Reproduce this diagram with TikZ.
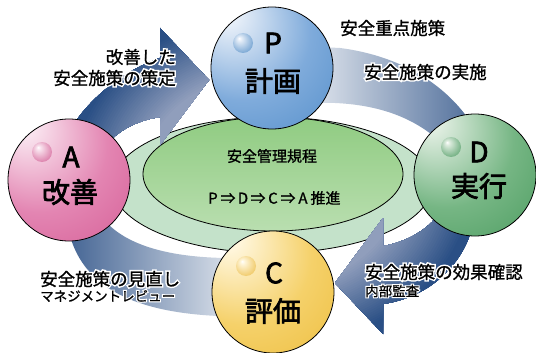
\documentclass[tikz,border=0pt]{standalone}
\usepackage{fontspec}
\setmainfont{Noto Sans CJK JP}
\newfontfamily\labfont{Noto Sans CJK JP}[FakeBold=1]
\newfontfamily\circfont{Noto Sans CJK JP}[FakeBold=2.5]
\newfontfamily\halofont{Noto Sans CJK JP}[FakeBold=18]
\newcommand{\halotext}[1]{\makebox[0pt][l]{\halofont\color{white}#1}#1}
\usetikzlibrary{shapes.geometric}
\definecolor{arrdark}{HTML}{2A4F85}
\definecolor{arrlight}{HTML}{909EBC}
\definecolor{Plight}{HTML}{E6EEF8}
\definecolor{Pmid}{HTML}{7FABDB}
\definecolor{Pdark}{HTML}{2670B8}
\definecolor{Alight}{HTML}{F9E3EE}
\definecolor{Amid}{HTML}{E385B2}
\definecolor{Adark}{HTML}{C63478}
\definecolor{Dlight}{HTML}{DFEDE0}
\definecolor{Dmid}{HTML}{76B684}
\definecolor{Ddark}{HTML}{1E8039}
\definecolor{Clight}{HTML}{FFF6DC}
\definecolor{Cmid}{HTML}{F5D16A}
\definecolor{Cdark}{HTML}{E5A912}
\definecolor{ringc}{HTML}{C4E2CA}
\definecolor{ingreen}{HTML}{7BC26A}
\definecolor{inpale}{HTML}{CEE8C7}
\pgfdeclareradialshading{sphP}{\pgfpoint{-20bp}{24bp}}{color(0bp)=(Plight); color(5bp)=(Plight); color(28bp)=(Pmid); color(72bp)=(Pdark)}
\pgfdeclareradialshading{sphA}{\pgfpoint{-20bp}{24bp}}{color(0bp)=(Alight); color(5bp)=(Alight); color(28bp)=(Amid); color(72bp)=(Adark)}
\pgfdeclareradialshading{sphD}{\pgfpoint{-20bp}{24bp}}{color(0bp)=(Dlight); color(5bp)=(Dlight); color(28bp)=(Dmid); color(72bp)=(Ddark)}
\pgfdeclareradialshading{sphC}{\pgfpoint{-20bp}{24bp}}{color(0bp)=(Clight); color(5bp)=(Clight); color(28bp)=(Cmid); color(72bp)=(Cdark)}
\pgfdeclareradialshading{ballP}{\pgfpoint{-10bp}{12bp}}{color(0bp)=(white); color(5bp)=(Plight); color(50bp)=(Pdark)}
\pgfdeclareradialshading{ballA}{\pgfpoint{-10bp}{12bp}}{color(0bp)=(white); color(5bp)=(Alight); color(50bp)=(Adark)}
\pgfdeclareradialshading{ballD}{\pgfpoint{-10bp}{12bp}}{color(0bp)=(white); color(5bp)=(Dlight); color(50bp)=(Ddark)}
\pgfdeclareradialshading{ballC}{\pgfpoint{-10bp}{12bp}}{color(0bp)=(white); color(5bp)=(Clight); color(50bp)=(Cdark)}
\pgfdeclarehorizontalshading{bandPD}{100bp}{color(0bp)=(white); color(10bp)=(white); color(92bp)=(arrdark); color(100bp)=(arrdark)}
\pgfdeclarehorizontalshading{bandCA}{100bp}{color(0bp)=(arrdark); color(15bp)=(arrdark); color(90bp)=(white); color(100bp)=(white)}
\pgfdeclareverticalshading{ingr}{100bp}{color(0bp)=(inpale); color(100bp)=(ingreen)}
\newcommand{\ringfill}{%
  \foreach \k in {100,99,...,40}{%
    \pgfmathsetmacro\pp{max(0,min(100,(\k-54)/(84-54)*100))}%
    \fill[arrdark!\pp!arrlight] (272,180) ellipse [x radius=2.4*\k, y radius=2.0*\k];
  }}
\begin{document}
\begin{tikzpicture}[x=1pt,y=-1pt,
  sph/.style={circle, draw=black, line width=0.8pt, minimum size=122pt, inner sep=0pt, shade},
  smallball/.style={circle, minimum size=20pt, inner sep=0pt, shade},
  letter/.style={font=\circfont\fontsize{28}{28}\selectfont, inner sep=0pt},
  kanji/.style={font=\circfont\fontsize{28}{28}\selectfont, inner sep=0pt},
  lbl/.style={font=\labfont\fontsize{17.5}{20}\selectfont, inner sep=0pt},
  smalllbl/.style={font=\labfont\fontsize{13.5}{15}\selectfont, inner sep=0pt},
  etext/.style={font=\labfont\fontsize{15}{17}\selectfont, inner sep=0pt}]
\useasboundingbox (0,0) rectangle (536,353);
\fill[white] (0,0) rectangle (536,353);
% central ellipses
\node[ellipse, draw=black, line width=0.8pt, fill=ringc, minimum width=320pt, minimum height=136pt, inner sep=0pt] (outer) at (272,185) {};
\node[ellipse, draw=black, line width=0.8pt, shade, shading=ingr, minimum width=260pt, minimum height=114pt, inner sep=0pt] (inner) at (273,174) {};
% arrow A -> P
\begin{scope}
\clip (68,132) -- (78,118) .. controls (95,95) and (125,70) .. (160,58) -- (160,28) -- (209,80) -- (160,145) -- (160,117) .. controls (140,120) and (124,128) .. (114,137) -- (100,152) -- cycle;
\ringfill
\end{scope}
% arrow D -> C
\begin{scope}
\clip (478,205) -- (472,228) .. controls (462,265) and (430,297) .. (383,304) -- (383,334) -- (335,283) -- (383,218) -- (383,246) .. controls (402,243) and (420,234) .. (432,222) -- (445,205) -- cycle;
\ringfill
\end{scope}
% band P -> D
\shade[shading=bandPD] (320,47) -- (340,48) .. controls (395,55) and (440,80) .. (467,117) -- (450,140) -- (431,134) .. controls (410,118) and (380,105) .. (335,103) -- (320,103) -- cycle;
% band C -> A
\shade[shading=bandCA] (225,258) .. controls (170,257) and (132,246) .. (110,226) -- (92,212) -- (70,236) .. controls (85,288) and (135,312) .. (218,316) -- cycle;
% circles
\node[sph, shading=sphP] (P) at (272,68) {};
\node[sph, shading=sphA] (A) at (69,180) {};
\node[sph, shading=sphD] (D) at (475,175) {};
\node[sph, shading=sphC] (C) at (273,292) {};
\node[smallball, shading=ballP] (Pb) at (243,43) {};
\node[smallball, shading=ballA] (Ab) at (42,152) {};
\node[smallball, shading=ballD] (Db) at (451,147) {};
\node[smallball, shading=ballC] (Cb) at (246,266) {};
\node[letter] (Pl) at (273,43) {P};
\node[kanji] (Pk) at (273,81) {計画};
\node[letter] (Al) at (71,157) {A};
\node[kanji] (Ak) at (70,192) {改善};
\node[letter] (Dl) at (479,152) {D};
\node[kanji] (Dk) at (479,186) {実行};
\node[letter] (Cl) at (274,273) {C};
\node[kanji] (Ck) at (273,311) {評価};
% labels
\node[lbl, anchor=east] (l1) at (176,57) {\halotext{改善した}};
\node[lbl, anchor=east] (l2) at (176,78) {\halotext{安全施策の策定}};
\node[lbl, anchor=west] (l3) at (340,28) {安全重点施策};
\node[lbl, anchor=west] (l4) at (364,72) {\halotext{安全施策の実施}};
\node[lbl, anchor=west] (l5) at (40,279) {\halotext{安全施策の見直し}};
\node[smalllbl, anchor=west] (l6) at (40,296) {\halotext{マネジメントレビュー}};
\node[lbl, anchor=west] (l7) at (365,272) {\halotext{安全施策の効果確認}};
\node[smalllbl, anchor=west] (l8) at (365,291) {\halotext{内部監査}};
% ellipse text
\node[etext] (e1) at (272,156) {安全管理規程};
\node[etext] (e2) at (273,198) {\makebox[1em]{P}⇒\makebox[1em]{D}⇒\makebox[1em]{C}⇒\makebox[1em]{A}推進};
\end{tikzpicture}
\end{document}
